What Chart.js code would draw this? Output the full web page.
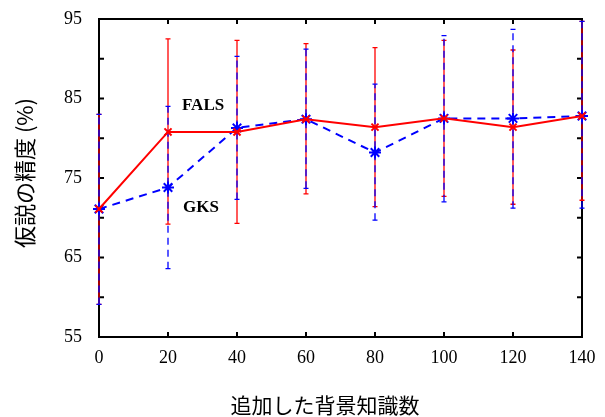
<!DOCTYPE html>
<html lang="ja">
<head>
<meta charset="UTF-8">
<title>仮説の精度</title>
<style>
  html, body { margin: 0; padding: 0; background: #fff; }
  canvas { display: block; }
</style>
</head>
<body>
<canvas id="chart" width="605" height="417"></canvas>
<script src="https://cdn.jsdelivr.net/npm/chart.js@4.4.1/dist/chart.umd.min.js"></script>
<script>
// data
const xValues = [0, 20, 40, 60, 80, 100, 120, 140];
const falsMean = [71.1, 80.8, 80.8, 82.4, 81.4, 82.5, 81.4, 82.8];
const falsLow  = [59.1, 69.2, 69.3, 73.0, 71.4, 72.7, 71.7, 72.2];
const falsHigh = [83.0, 92.5, 92.3, 91.9, 91.4, 92.3, 91.1, 94.7];
const gksMean  = [71.1, 73.8, 81.3, 82.4, 78.2, 82.5, 82.5, 82.8];
const gksLow   = [59.1, 63.6, 72.3, 73.7, 69.7, 72.0, 71.2, 71.2];
const gksHigh  = [83.0, 84.0, 90.3, 91.2, 86.8, 92.9, 93.7, 94.7];
const xTicks = [0, 20, 40, 60, 80, 100, 120, 140];
const yTicks = [55, 65, 75, 85, 95];
const yMinorTicks = [55, 60, 65, 70, 75, 80, 85, 90, 95];

const serif = '"Liberation Serif", "Times New Roman", serif';
const jp = '"Noto Sans CJK JP", "Noto Sans", sans-serif';

function toPts(ys) {
  return xValues.map((x, i) => ({x: x, y: ys[i]}));
}

// box with inward ticks, error bars, axis titles and series labels
const decorations = {
  id: 'decorations',
  beforeDatasetsDraw(chart) {
    const {ctx, chartArea: a, scales: {x, y}} = chart;
    ctx.save();
    ctx.strokeStyle = '#000';
    ctx.lineWidth = 2;
    ctx.strokeRect(a.left, a.top, a.right - a.left, a.bottom - a.top);
    ctx.beginPath();
    xTicks.forEach(v => {
      const px = x.getPixelForValue(v);
      ctx.moveTo(px, a.bottom); ctx.lineTo(px, a.bottom - 5);
      ctx.moveTo(px, a.top); ctx.lineTo(px, a.top + 5);
    });
    yMinorTicks.forEach(v => {
      const py = y.getPixelForValue(v);
      ctx.moveTo(a.left, py); ctx.lineTo(a.left + 5, py);
      ctx.moveTo(a.right, py); ctx.lineTo(a.right - 5, py);
    });
    ctx.stroke();

    // error bars
    function bars(lo, hi, color, dash) {
      ctx.strokeStyle = color;
      ctx.lineWidth = 1.3;
      xValues.forEach((v, i) => {
        const px = x.getPixelForValue(v);
        const y1 = y.getPixelForValue(lo[i]);
        const y2 = y.getPixelForValue(hi[i]);
        ctx.setLineDash(dash);
        ctx.beginPath();
        ctx.moveTo(px, y1); ctx.lineTo(px, y2);
        ctx.stroke();
        ctx.setLineDash([]);
        ctx.beginPath();
        ctx.moveTo(px - 2.5, y1); ctx.lineTo(px + 2.5, y1);
        ctx.moveTo(px - 2.5, y2); ctx.lineTo(px + 2.5, y2);
        ctx.stroke();
      });
    }
    bars(falsLow, falsHigh, '#ff0000', []);
    bars(gksLow, gksHigh, '#0000ff', [7, 5]);
    ctx.restore();
  },
  afterDraw(chart) {
    const {ctx} = chart;
    ctx.save();
    ctx.fillStyle = '#000';
    ctx.textAlign = 'center';
    ctx.textBaseline = 'middle';
    ctx.font = '21px ' + jp;
    ctx.fillText('追加した背景知識数', 325, 405);
    ctx.translate(25, 173);
    ctx.rotate(-Math.PI / 2);
    ctx.font = '22px ' + jp;
    ctx.fillText('仮説の精度 (%)', 0, 0);
    ctx.restore();

    ctx.save();
    ctx.fillStyle = '#000';
    ctx.font = 'bold 17px ' + serif;
    ctx.textAlign = 'left';
    ctx.textBaseline = 'middle';
    ctx.fillText('FALS', 182, 106);
    ctx.fillText('GKS', 183, 208);
    ctx.restore();
  }
};

new Chart(document.getElementById('chart'), {
  type: 'line',
  data: {
    datasets: [
      {
        label: 'FALS',
        data: toPts(falsMean),
        borderColor: '#ff0000',
        borderWidth: 2,
        pointStyle: 'crossRot',
        pointRadius: 5,
        pointBorderWidth: 2,
        pointBorderColor: '#ff0000',
        tension: 0,
        clip: false
      },
      {
        label: 'GKS',
        data: toPts(gksMean),
        borderColor: '#0000ff',
        borderWidth: 2,
        borderDash: [8, 6],
        pointStyle: 'star',
        pointRadius: 6,
        pointBorderWidth: 2,
        pointBorderColor: '#0000ff',
        tension: 0,
        clip: false
      }
    ]
  },
  options: {
    responsive: false,
    animation: false,
    layout: {padding: {top: 19, right: 23, left: 0, bottom: 0}},
    plugins: {legend: {display: false}, tooltip: {enabled: false}},
    scales: {
      x: {
        type: 'linear',
        min: 0, max: 140,
        afterBuildTicks: s => { s.ticks = xTicks.map(v => ({value: v})); },
        afterFit: s => { s.height = 80; s.paddingLeft = 0; s.paddingRight = 0; },
        grid: {display: false, drawTicks: false},
        border: {display: false},
        ticks: {color: '#000', font: {family: serif, size: 18}, padding: 10, maxRotation: 0}
      },
      y: {
        min: 55, max: 95,
        afterBuildTicks: s => { s.ticks = yTicks.map(v => ({value: v})); },
        afterFit: s => { s.width = 99; s.paddingTop = 0; s.paddingBottom = 0; },
        grid: {display: false, drawTicks: false},
        border: {display: false},
        ticks: {color: '#000', font: {family: serif, size: 18}, padding: 17}
      }
    }
  },
  plugins: [decorations]
});
</script>
</body>
</html>
